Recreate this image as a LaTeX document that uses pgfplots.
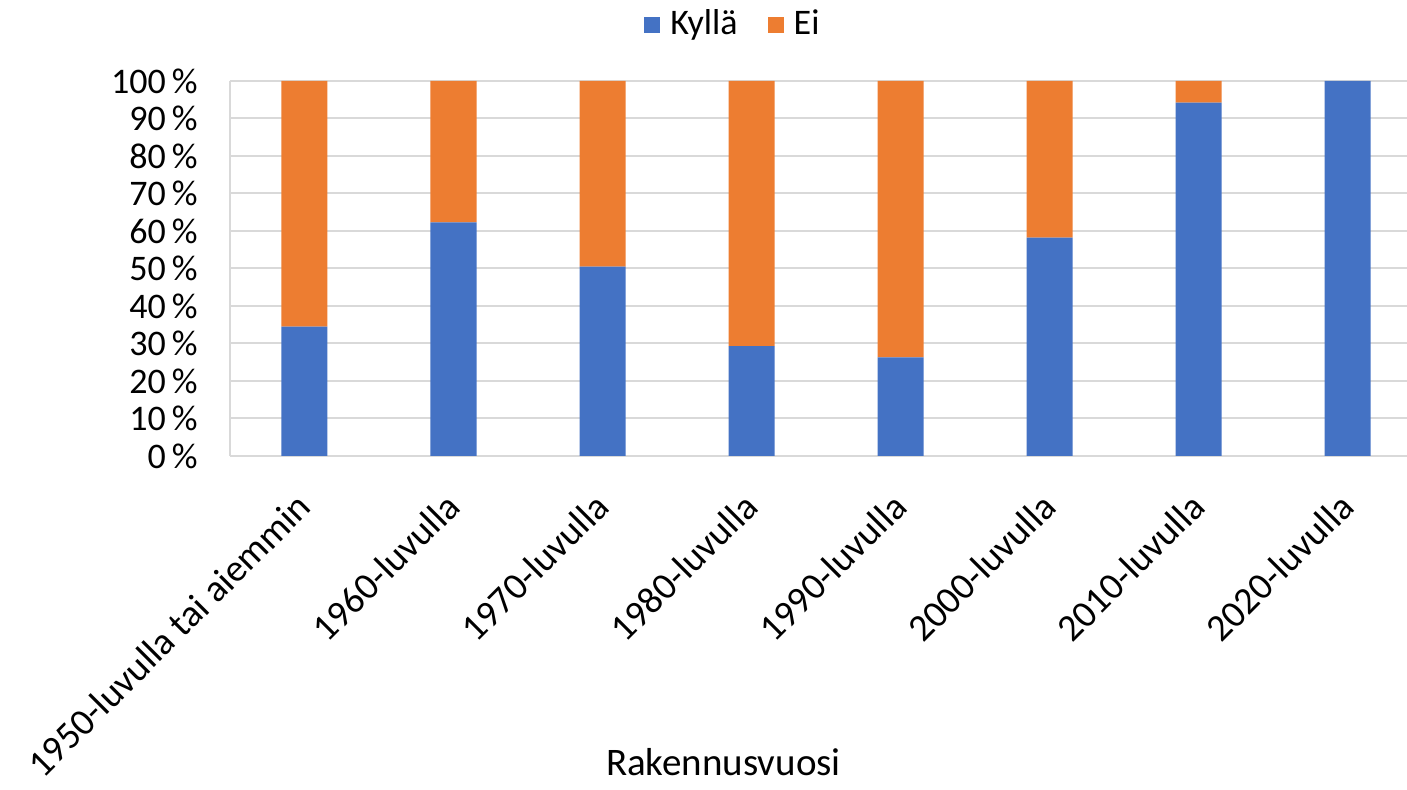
\documentclass[border=0pt]{standalone}
\usepackage{fontspec}
\setmainfont{Carlito}
\usepackage{pgfplots}
\pgfplotsset{compat=1.18}

\definecolor{kylla}{HTML}{4472C4}
\definecolor{ei}{HTML}{ED7D31}
\definecolor{gridgray}{HTML}{D9D9D9}

\begin{document}
\fontsize{19}{23}\selectfont
\begin{tikzpicture}
\begin{axis}[
    at={(0,0)}, anchor=south west,
    scale only axis,
    width=596pt, height=187.5pt,
    ybar stacked,
    bar width=23pt,
    xmin=-0.5, xmax=7.5,
    ymin=0, ymax=100,
    xtick={0,...,7},
    xticklabels={1950-luvulla tai aiemmin,1960-luvulla,1970-luvulla,1980-luvulla,1990-luvulla,2000-luvulla,2010-luvulla,2020-luvulla},
    xticklabel style={xshift=-5pt, yshift=-17pt, rotate=45, anchor=north east,
        inner sep=0pt, font=\fontsize{19}{23}\selectfont},
    ytick={0,10,...,100},
    yticklabels={0\,\%,10\,\%,20\,\%,30\,\%,40\,\%,50\,\%,60\,\%,70\,\%,80\,\%,90\,\%,100\,\%},
    yticklabel style={anchor=east, inner sep=0pt, xshift=-16pt,
        font=\fontsize{18}{22}\selectfont},
    major tick length=0pt,
    axis lines*=left,
    axis line style={gridgray, line width=1pt},
    ymajorgrids,
    major grid style={gridgray, line width=1pt},
    xlabel={Rakennusvuosi},
    xlabel style={at={(axis description cs:0.414,-0.817)}, anchor=center,
        font=\fontsize{19.5}{23}\selectfont},
    legend columns=2,
    legend style={at={(axis description cs:0.4228,1.149)}, anchor=center,
        draw=none, fill=none, inner sep=0pt, font=\fontsize{18}{22}\selectfont,
        /tikz/every even column/.append style={column sep=13pt}},
    legend image code/.code={\fill[#1] (0pt,-4pt) rectangle (8pt,4pt);},
]
\addplot[fill=kylla, draw=none] coordinates {
    (0,34.5) (1,62.3) (2,50.5) (3,29.3) (4,26.3) (5,58.2) (6,94.2) (7,100)
};
\addlegendentry{\hspace{3pt}Kyllä}
\addplot[fill=ei, draw=none] coordinates {
    (0,65.5) (1,37.7) (2,49.5) (3,70.7) (4,73.7) (5,41.8) (6,5.8) (7,0)
};
\addlegendentry{\hspace{3pt}Ei}
\end{axis}
\pgfresetboundingbox
\useasboundingbox (-115pt,-167pt) rectangle (588.5pt,228pt);
\end{tikzpicture}
\end{document}
